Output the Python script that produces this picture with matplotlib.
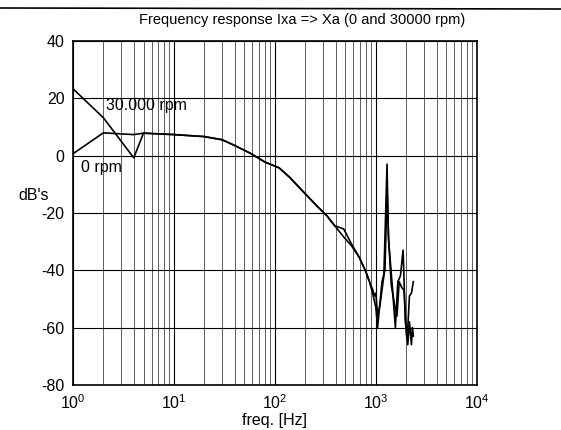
import matplotlib
matplotlib.use("Agg")
import matplotlib.pyplot as plt
from matplotlib.lines import Line2D

plt.rcParams["font.family"] = ["Liberation Sans", "DejaVu Sans"]
plt.rcParams["axes.unicode_minus"] = False

# frequency response
freq_0rpm = [1, 2, 4, 5, 10, 20, 30, 40, 57, 80, 110, 140, 186, 264, 327, 391,
             480, 574, 684, 789, 870, 935, 1000, 1040, 1150, 1230, 1290, 1340,
             1450, 1560, 1650, 1750, 1860, 1960, 2050, 2150, 2250, 2350]
db_0rpm = [0.6, 7.9, 7.3, 7.8, 7.3, 6.6, 5.5, 3.5, 0.8, -2.3, -4.3, -7.6, -12.2,
           -17.8, -21.0, -24.5, -28.4, -31.5, -35.5, -40.2, -44.3, -48.5, -53.0,
           -60.0, -44.0, -40.0, -12.0, -30.0, -45.0, -60.0, -44.0, -42.0, -33.0,
           -58.0, -63.0, -49.0, -48.0, -44.0]

freq_30k = [1, 2, 4, 5, 10, 20, 30, 40, 57, 80, 110, 140, 186, 264, 327, 391,
            480, 574, 684, 789, 870, 935, 970, 1000, 1040, 1100, 1200, 1290,
            1330, 1420, 1530, 1620, 1700, 1800, 1900, 2000, 2070, 2150, 2250,
            2300, 2350]
db_30k = [23.3, 13.2, -0.8, 7.8, 7.3, 6.6, 5.5, 3.5, 0.8, -2.3, -4.3, -7.6, -12.2,
          -17.8, -21.0, -24.5, -25.6, -30.9, -35.5, -40.2, -44.3, -47.0, -49.0,
          -48.0, -56.0, -52.0, -42.0, -3.0, -28.0, -45.0, -52.0, -56.0, -44.0,
          -46.0, -47.0, -62.0, -66.0, -58.0, -66.0, -60.0, -63.0]

yticks = [-80, -60, -40, -20, 0, 20, 40]

fig = plt.figure(figsize=(5.61, 4.30), dpi=100)
ax = fig.add_axes([0.130, 0.105, 0.720, 0.800])

ax.plot(freq_0rpm, db_0rpm, color="black", lw=1.2)
ax.plot(freq_30k, db_30k, color="black", lw=1.2)

ax.set_xscale("log")
ax.set_xlim(1, 1e4)
ax.set_ylim(-80, 40)
ax.set_yticks(yticks)
ax.grid(True, which="major", color="black", lw=0.8)
ax.grid(True, which="minor", axis="x", color="#444444", lw=0.6)
ax.tick_params(which="both", length=0, labelsize=11.5, pad=6)
for s in ax.spines.values():
    s.set_linewidth(1.2)

ax.text(2.15, 17.5, "30.000 rpm", fontsize=11.5, va="center", ha="left")
ax.text(1.19, -4.2, "0 rpm", fontsize=11.5, va="center", ha="left")

fig.text(302 / 561, 1 - 20 / 430, "Frequency response Ixa => Xa (0 and 30000 rpm)",
         ha="center", va="center", fontsize=10.5)
fig.text(34 / 561, 1 - 196 / 430, "dB's", ha="center", va="center", fontsize=11.5)
ax.set_xlabel("freq. [Hz]", fontsize=11.5, labelpad=1)

# scan artifact line at the top of the page
fig.add_artist(Line2D([0.0, 1.0], [1 - 8 / 430, 1 - 9 / 430], color="black", lw=1.2,
                      transform=fig.transFigure))

fig.savefig("out.png", dpi=100)
